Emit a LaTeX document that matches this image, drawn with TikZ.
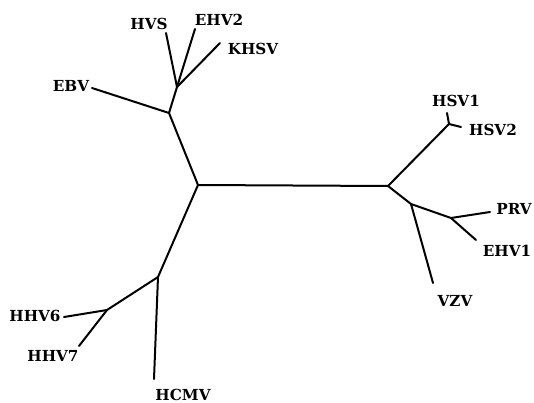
\documentclass[tikz,border=0pt]{standalone}
\usepackage{fontspec}
\setmainfont{DejaVu Serif}
\begin{document}
\begin{tikzpicture}[x=1pt,y=-1pt,
  branch/.style={line width=2pt,line cap=round,line join=round},
  lab/.style={font=\fontsize{15.2}{18}\selectfont\bfseries,inner sep=0pt}]
\useasboundingbox (0,0) rectangle (534,403);
% internal nodes
\coordinate (C) at (198,185);
\coordinate (A) at (169,113);
\coordinate (B) at (177,87);
\coordinate (D) at (388,186);
\coordinate (S) at (449,124);
\coordinate (E) at (411,204);
\coordinate (F) at (451,218);
\coordinate (G) at (158,277);
\coordinate (H) at (107,310);
% leaf ends
\coordinate (eHVS) at (166,33);
\coordinate (eEHV2) at (195,29);
\coordinate (eKHSV) at (220,43);
\coordinate (eEBV) at (92,88);
\coordinate (eHSV1) at (447,113);
\coordinate (eHSV2) at (461,127);
\coordinate (ePRV) at (490,212);
\coordinate (eEHV1) at (476,240);
\coordinate (eVZV) at (433,283);
\coordinate (eHCMV) at (154,379);
\coordinate (eHHV6) at (64,317);
\coordinate (eHHV7) at (79,346);
% labels
\node[lab] (HVS) at (149,24) {HVS};
\node[lab] (EHV2) at (219,20) {EHV2};
\node[lab] (KHSV) at (253,49) {KHSV};
\node[lab] (EBV) at (71,86) {EBV};
\node[lab] (HSV1) at (456,101) {HSV1};
\node[lab] (HSV2) at (493,130) {HSV2};
\node[lab] (PRV) at (514,209) {PRV};
\node[lab] (EHV1) at (507,251) {EHV1};
\node[lab] (VZV) at (455,301) {VZV};
\node[lab] (HCMV) at (183,395) {HCMV};
\node[lab] (HHV6) at (35,316) {HHV6};
\node[lab] (HHV7) at (53,356) {HHV7};
% branches
\draw[branch] (C) -- (D);
\draw[branch] (C) -- (A);
\draw[branch] (A) -- (B);
\draw[branch] (A) -- (eEBV);
\draw[branch] (B) -- (eHVS);
\draw[branch] (B) -- (eEHV2);
\draw[branch] (B) -- (eKHSV);
\draw[branch] (D) -- (S);
\draw[branch] (S) -- (eHSV1);
\draw[branch] (S) -- (eHSV2);
\draw[branch] (D) -- (E);
\draw[branch] (E) -- (F);
\draw[branch] (F) -- (ePRV);
\draw[branch] (F) -- (eEHV1);
\draw[branch] (E) -- (eVZV);
\draw[branch] (C) -- (G);
\draw[branch] (G) -- (eHCMV);
\draw[branch] (G) -- (H);
\draw[branch] (H) -- (eHHV6);
\draw[branch] (H) -- (eHHV7);
\end{tikzpicture}
\end{document}
